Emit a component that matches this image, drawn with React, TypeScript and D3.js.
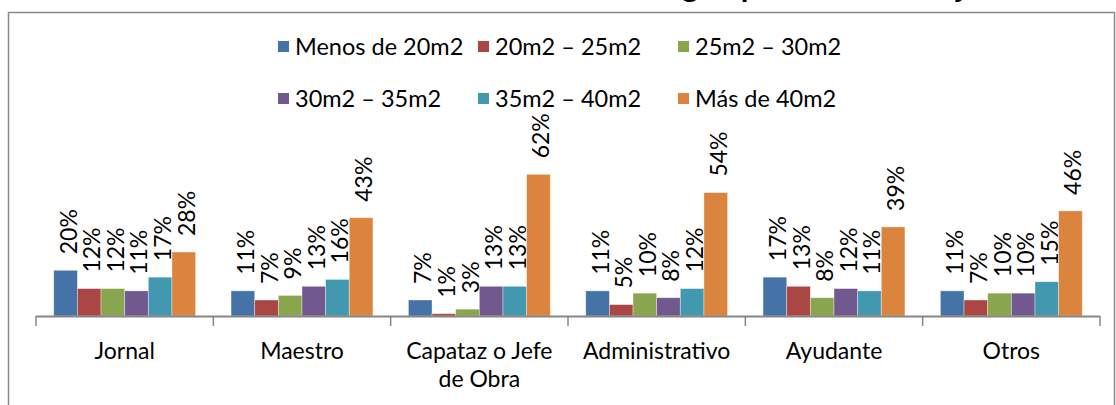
import React from "react";
import * as d3 from "d3";

const categories = ["Jornal", "Maestro", "Capataz o Jefe de Obra", "Administrativo", "Ayudante", "Otros"];
const categoryLines = [["Jornal"], ["Maestro"], ["Capataz o Jefe", "de Obra"], ["Administrativo"], ["Ayudante"], ["Otros"]];
const seriesNames = ["Menos de 20m2", "20m2 – 25m2", "25m2 – 30m2", "30m2 – 35m2", "35m2 – 40m2", "Más de 40m2"];
const seriesColors = ["#4572A7", "#AA4643", "#89A54E", "#71588F", "#4198AF", "#DB843D"];
const menosDe20 = [20, 11, 7, 11, 17, 11];
const de20a25 = [12, 7, 1, 5, 13, 7];
const de25a30 = [12, 9, 3, 10, 8, 10];
const de30a35 = [11, 13, 13, 8, 12, 10];
const de35a40 = [17, 16, 13, 12, 11, 15];
const masDe40 = [28, 43, 62, 54, 39, 46];
const seriesValues = [menosDe20, de20a25, de25a30, de30a35, de35a40, masDe40];

const W = 1116;
const H = 405;
const FONT = "Lato, 'Open Sans', sans-serif";

export default function App() {
  const x0 = d3.scaleBand<string>().domain(categories).range([36, 1100]).paddingInner(0.2).paddingOuter(0.1);
  const x1 = d3.scaleBand<string>().domain(seriesNames).range([0, x0.bandwidth()]).padding(0);
  const y = d3.scaleLinear().domain([0, 70]).range([316, 316 - 70 * 2.285]);
  const step = x0.step();
  const tickXs = d3.range(categories.length + 1).map((i) => 36 + i * step);

  return (
    <svg width={W} height={H} style={{ position: "absolute", left: 0, top: 0, background: "#fff" }} fontFamily={FONT}>
      <rect x={0} y={0} width={W} height={H} fill="#fff" />
      {/* clipped title */}
      <text x={372} y={-3} fontSize={31} fontWeight="bold" fill="#000">
        Tamaño de vivienda según puesto de trabajo
      </text>
      {/* frame */}
      <path d={`M8.5,${H + 2} V12.5 H1114.5 V${H + 2}`} fill="none" stroke="#8a8a8a" strokeWidth={1.5} />

      {/* legend */}
      {seriesNames.map((name, i) => {
        const col = i % 3;
        const row = Math.floor(i / 3);
        const lx = 278 + col * 200;
        const ly = 47 + row * 52;
        return (
          <g key={name}>
            <rect x={lx} y={ly - 6} width={11} height={11} fill={seriesColors[i]} />
            <text x={lx + 17} y={ly + 8} fontSize={23.5} fill="#000">
              {name}
            </text>
          </g>
        );
      })}

      {/* bars */}
      {categories.map((cat, ci) => (
        <g key={cat} transform={`translate(${x0(cat)},0)`}>
          {seriesNames.map((s, si) => {
            const v = seriesValues[si][ci];
            const bx = x1(s)!;
            const top = y(v);
            return (
              <g key={s}>
                <rect
                  x={bx}
                  y={top}
                  width={x1.bandwidth()}
                  height={y(0) - top}
                  fill={seriesColors[si]}
                  stroke="#ffffff"
                  strokeOpacity={0.45}
                  strokeWidth={0.8}
                />
                <text
                  transform={`translate(${bx + x1.bandwidth() / 2 + 11},${top - 16}) rotate(-90)`}
                  fontSize={23}
                  fill="#000"
                >
                  {v + "%"}
                </text>
              </g>
            );
          })}
        </g>
      ))}

      {/* axis */}
      <line x1={36} x2={1100} y1={316.5} y2={316.5} stroke="#868686" strokeWidth={2} />
      {tickXs.map((tx, i) => (
        <line key={i} x1={tx} x2={tx} y1={316} y2={326} stroke="#868686" strokeWidth={1.5} />
      ))}
      {categories.map((cat, ci) => (
        <text key={cat} x={x0(cat)! + x0.bandwidth() / 2} y={359} textAnchor="middle" fontSize={23} fill="#000">
          {categoryLines[ci].map((ln, li) => (
            <tspan key={li} x={x0(cat)! + x0.bandwidth() / 2} dy={li === 0 ? 0 : 28}>
              {ln}
            </tspan>
          ))}
        </text>
      ))}
    </svg>
  );
}
